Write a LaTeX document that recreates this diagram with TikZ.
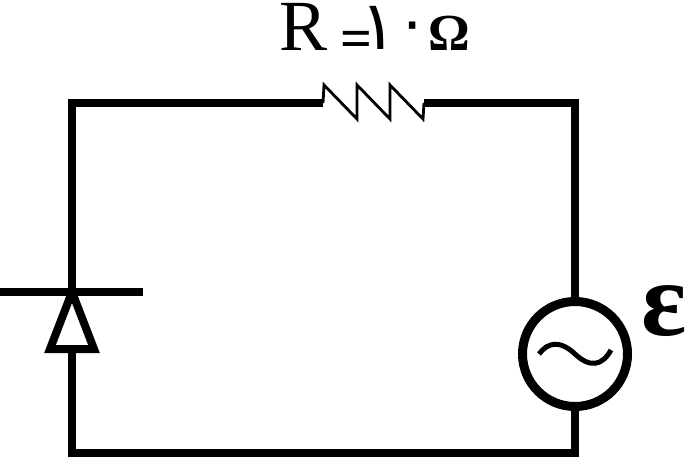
\documentclass[tikz,border=0pt]{standalone}
\usepackage{fontspec}
\setmainfont{Liberation Serif}
\newfontfamily\arabicfont[Script=Arabic]{DejaVu Sans}
\TeXXeTstate=1
\usetikzlibrary{calc}
\tikzset{
  wire/.style={line width=8pt,line cap=butt,line join=miter},
  thinwire/.style={line width=2.8pt,line join=miter,line cap=butt},
  lab/.style={inner sep=0pt,anchor=base,text=black},
}
\begin{document}
\begin{tikzpicture}[x=1pt,y=-1pt]
\useasboundingbox (0,0) rectangle (687,460);
% named points
\coordinate (rl) at (323,103);
\coordinate (rr) at (424,103);
\coordinate (tl) at (72,103);
\coordinate (tr) at (575,103);
\coordinate (bl) at (72,453);
\coordinate (br) at (575,453);
\coordinate (apex) at (72,292);
\coordinate (base) at (72,349);
\node[circle,draw,line width=9pt,minimum size=105pt,inner sep=0pt] (src) at (575,354) {};
% wires
\draw[wire] (rl) -- (tl) -- (apex);
\draw[wire] (rr) -- (tr) -- (src.north);
\draw[wire] (src.south) -- (br) -- (bl) -- (base);
% resistor
\draw[thinwire] (rl) -- (324,85) -- (357,119) -- (357,85) -- (390,119) -- (390,85) -- (423,119) -- (rr);
% diode
\draw[wire] (0,292) -- (143,292);
\draw[wire,miter limit=10] (apex) -- (94,349) -- (50,349) -- cycle;
% source tilde
\draw[line width=5pt,line cap=butt] (539,354) .. controls (548,342) and (560,340) .. (575,354) .. controls (590,368) and (602,366) .. (611,350);
% labels
\node[lab] (rlab) at (304,50) {\fontsize{72}{72}\selectfont R};
\node[lab] (eq) at (356,58) {\fontsize{56}{56}\selectfont\bfseries =};
\node[lab] (one) at (379,49) {\arabicfont\fontsize{68}{68}\selectfont\beginR ١\endR};
\node[lab] (zero) at (413,43) {\arabicfont\fontsize{60}{60}\selectfont\beginR ٠\endR};
\node[lab] (om) at (449,50) {\fontsize{52}{52}\selectfont\bfseries Ω};
\node[lab] (emf) at (664,335) {\fontsize{106}{106}\selectfont\bfseries ε};
\end{tikzpicture}
\end{document}
